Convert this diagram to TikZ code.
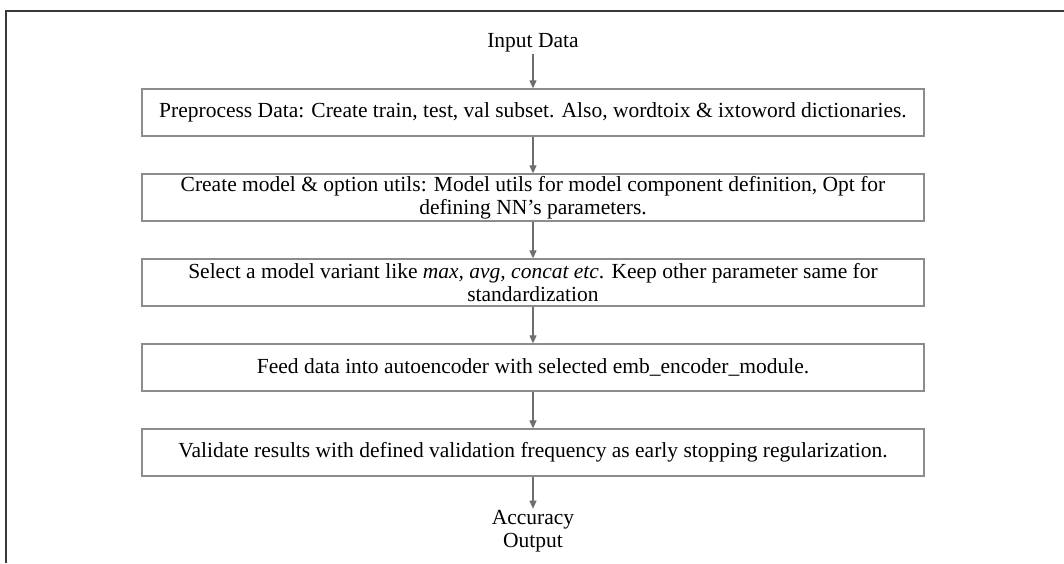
\documentclass[tikz,border=0pt]{standalone}
\usepackage{fontspec}
\setmainfont{Liberation Serif}
\usetikzlibrary{arrows.meta, positioning}

\definecolor{framegray}{HTML}{3A3A3A}
\definecolor{boxgray}{HTML}{8C8C8C}
\definecolor{flowgray}{HTML}{6E6E6E}

\begin{document}
\begin{tikzpicture}[
    x=1pt, y=1pt,
    stage/.style={draw=boxgray, line width=1.3pt, rectangle, minimum width=782pt, minimum height=47pt, align=center, font=\fontsize{21.5}{23.5}\selectfont, inner sep=1pt},
    endtext/.style={align=center, font=\fontsize{21.5}{23.5}\selectfont, inner sep=1pt},
    arrow/.style={draw=flowgray, line width=1.2pt, -{Triangle[length=8pt,width=7pt]}}
]
\useasboundingbox (0,0) rectangle (1064,-563);

% outer frame (top and left edge only)
\draw[framegray, line width=1.6pt] (1064,-11) -- (6,-11) -- (6,-563);

% start
\node[endtext] (input) at (533,-43) {Input Data};

% pipeline stages
\node[stage] (prep) at (533,-112.5)
  {Preprocess Data: Create train, test, val subset. Also, wordtoix \& ixtoword dictionaries.};
\node[stage] (utils) at (533,-197.5)
  {Create model \& option utils: Model utils for model component definition, Opt for\\defining NN's parameters.};
\node[stage] (variant) at (533,-282.5)
  {Select a model variant like \textit{max, avg, concat etc}. Keep other parameter same for\\standardization};
\node[stage] (feed) at (533,-367.5)
  {Feed data into autoencoder with selected emb\_encoder\_module.};
\node[stage] (valid) at (533,-452.5)
  {Validate results with defined validation frequency as early stopping regularization.};

% result
\node[endtext] (output) at (533,-531) {Accuracy\\Output};

\draw[arrow] (input) -- (prep);
\draw[arrow] (prep) -- (utils);
\draw[arrow] (utils) -- (variant);
\draw[arrow] (variant) -- (feed);
\draw[arrow] (feed) -- (valid);
\draw[arrow] (valid) -- (output);
\end{tikzpicture}
\end{document}
